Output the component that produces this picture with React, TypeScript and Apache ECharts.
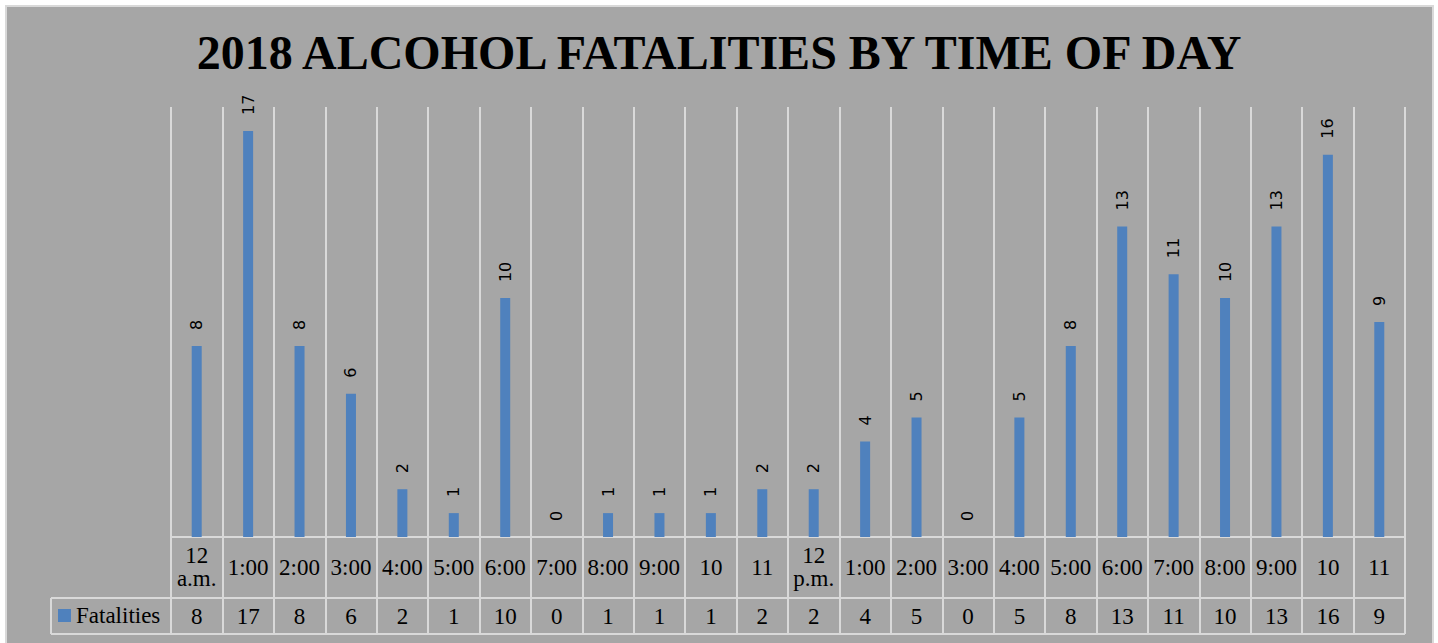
import React, { useEffect, useRef } from "react";
import * as echarts from "echarts";

const categories = [
  "12\na.m.", "1:00", "2:00", "3:00", "4:00", "5:00", "6:00", "7:00", "8:00", "9:00", "10", "11",
  "12\np.m.", "1:00", "2:00", "3:00", "4:00", "5:00", "6:00", "7:00", "8:00", "9:00", "10", "11",
];
const fatalities = [8, 17, 8, 6, 2, 1, 10, 0, 1, 1, 1, 2, 2, 4, 5, 0, 5, 8, 13, 11, 10, 13, 16, 9];
const seriesName = "Fatalities";
const titleText = "2018 ALCOHOL FATALITIES BY TIME OF DAY";

const BG = "#a6a6a6";
const LINE = "#d9d9d9";
const BLUE = "#4f81bd";
const SERIF = "'Liberation Serif', 'Times New Roman', serif";
const SANS = "'DejaVu Sans', Verdana, sans-serif";

export default function App() {
  const ref = useRef<HTMLDivElement>(null);
  useEffect(() => {
    if (!ref.current) return;
    const chart = echarts.init(ref.current, undefined, { renderer: "svg" });
    const gridLeft = 171;
    const gridRight = 1405;
    const axisY = 537;
    const row2Y = 598;
    const tableBottom = 634;
    chart.setOption({
      animation: false,
      backgroundColor: "#ffffff",
      title: {
        text: titleText,
        left: "center",
        top: 23,
        textStyle: { fontFamily: SERIF, fontWeight: "bold", fontSize: 48, color: "#000" },
      },
      legend: {
        data: [seriesName],
        left: 58,
        top: 604,
        padding: 0,
        icon: "rect",
        itemWidth: 13,
        itemHeight: 13,
        itemGap: 5,
        textStyle: { fontFamily: SERIF, fontSize: 23, color: "#000" },
      },
      grid: { left: gridLeft, right: 1438 - gridRight, top: 107, bottom: 643 - axisY, containLabel: false },
      xAxis: [
        {
          type: "category",
          data: categories,
          position: "bottom",
          axisLine: { show: true, lineStyle: { color: LINE, width: 2 } },
          axisTick: { show: true, length: tableBottom - axisY, lineStyle: { color: LINE, width: 2 } },
          splitLine: { show: true, lineStyle: { color: LINE, width: 2 } },
          axisLabel: {
            interval: 0,
            margin: 30,
            verticalAlign: "middle",
            fontFamily: SERIF,
            fontSize: 23,
            lineHeight: 23,
            color: "#000",
          },
        },
        {
          type: "category",
          data: categories,
          position: "bottom",
          axisLine: { show: false },
          axisTick: { show: false },
          splitLine: { show: false },
          axisLabel: {
            interval: 0,
            margin: 79,
            verticalAlign: "middle",
            fontFamily: SERIF,
            fontSize: 23,
            color: "#000",
            formatter: (_v: string, i: number) => String(fatalities[i]),
          },
        },
      ],
      yAxis: { type: "value", min: 0, max: 18, show: false, splitLine: { show: false } },
      series: [
        {
          name: seriesName,
          type: "bar",
          xAxisIndex: 0,
          data: fatalities,
          barWidth: 10,
          itemStyle: { color: BLUE },
          label: {
            show: true,
            position: "top",
            rotate: 90,
            align: "left",
            verticalAlign: "middle",
            distance: 16,
            fontFamily: SANS,
            fontSize: 16,
            color: "#000",
          },
        },
      ],
      graphic: [
        {
          type: "rect",
          z: -10,
          silent: true,
          shape: { x: 6, y: 6, width: 1427, height: 650 },
          style: { fill: BG, stroke: LINE, lineWidth: 2 },
        },
        {
          type: "line",
          silent: true,
          shape: { x1: 51, y1: row2Y, x2: gridRight, y2: row2Y },
          style: { stroke: LINE, lineWidth: 2 },
        },
        {
          type: "line",
          silent: true,
          shape: { x1: 51, y1: tableBottom, x2: gridRight, y2: tableBottom },
          style: { stroke: LINE, lineWidth: 2 },
        },
        {
          type: "line",
          silent: true,
          shape: { x1: 51, y1: row2Y, x2: 51, y2: tableBottom },
          style: { stroke: LINE, lineWidth: 2 },
        },
      ],
    });
    return () => chart.dispose();
  }, []);
  return (
    <div
      ref={ref}
      style={{ position: "fixed", left: 0, top: 0, width: 1438, height: 643 }}
    />
  );
}
